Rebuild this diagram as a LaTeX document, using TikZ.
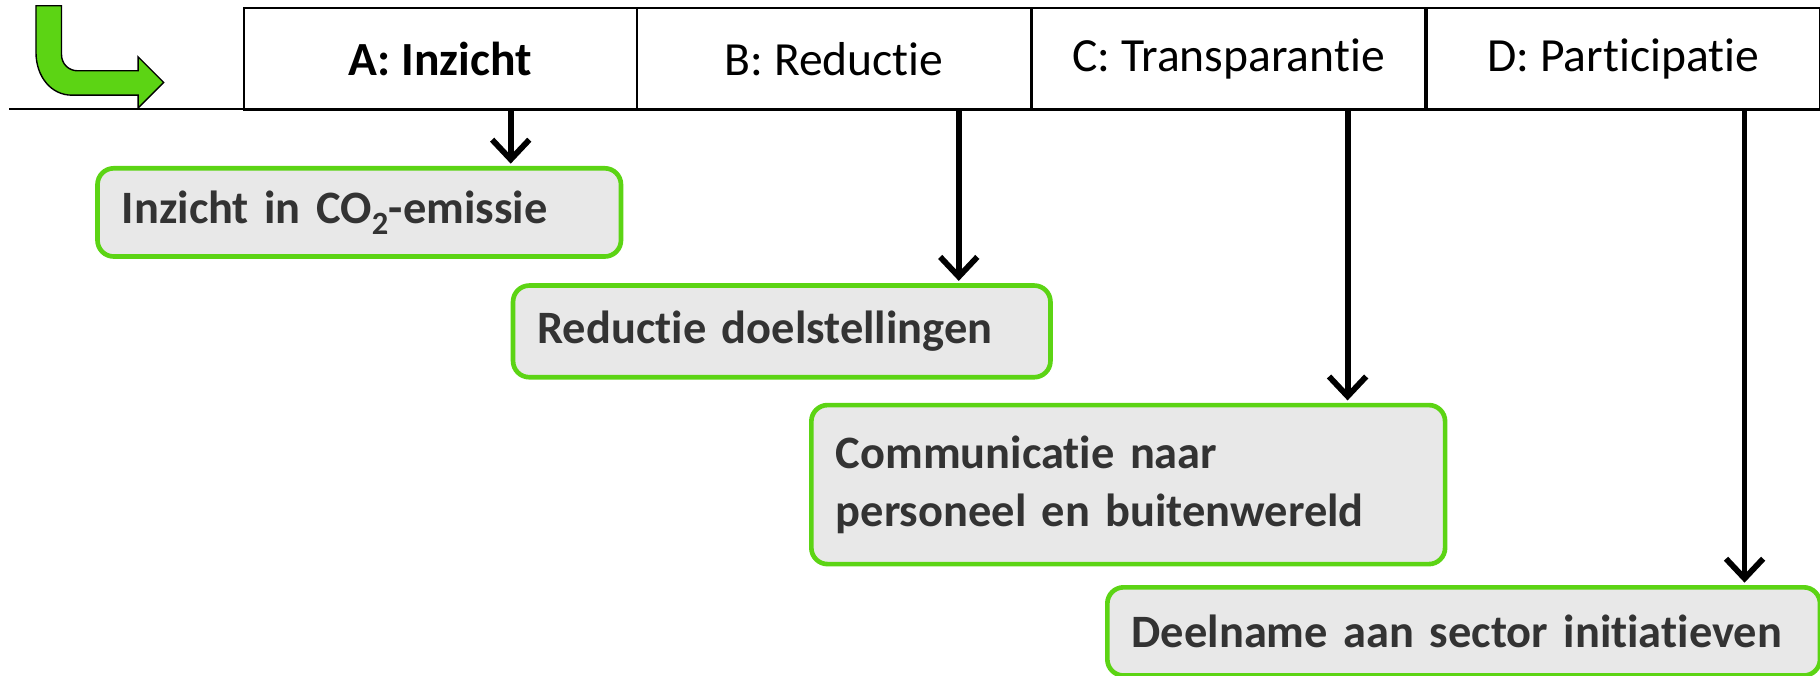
\documentclass[tikz,border=0pt]{standalone}
\usepackage{fontspec}
\setmainfont{Carlito}[Ligatures=NoCommon]
\usetikzlibrary{arrows.meta}
\definecolor{lgreen}{HTML}{5CD414}
\definecolor{boxfill}{HTML}{E8E8E8}
\definecolor{boxtext}{HTML}{333333}
\tikzset{
  hcell/.style={draw=black, line width=2pt, minimum width=339pt, minimum height=88pt, anchor=north west, inner sep=0pt, font=\fontsize{41}{50}\selectfont},
  gbox/.style={draw=lgreen, line width=4pt, fill=boxfill, rounded corners=14pt, anchor=north west, align=left, inner xsep=21pt, inner ysep=0pt, text=boxtext, font=\fontsize{40}{50}\selectfont\bfseries},
  conn/.style={line width=5pt, -{Straight Barb[length=17pt,width=32pt]}},
}
\begin{document}
\begin{tikzpicture}[x=1pt,y=-1pt]
\useasboundingbox (0,0) rectangle (1568,582.4);
% green bent arrow icon
\draw[fill=lgreen, draw=black, line width=1.2pt]
  (31,5) -- (53,5) -- (53,47) .. controls (53,55) and (59,61) .. (67,61)
  -- (119,61) -- (119,49) -- (141,71) -- (119,93) -- (119,82) -- (62,82)
  .. controls (44,82) and (31,66) .. (31,45) -- cycle;
% header
\node[hcell] (hA) at (209,6) {\bfseries A: Inzicht};
\node[hcell] (hB) at (548,6) {B: Reductie};
\node[hcell] (hC) at (888,6) {C: Transparantie};
\node[hcell] (hD) at (1228,6) {D: Participatie};
\draw[line width=2pt] (8,94) -- (1568,94);
% boxes
\node[gbox, text width=409pt, minimum height=76pt] (b1) at (82,143) {\mbox{Inzicht in CO\textsubscript{2}-emissie}};
\node[gbox, text width=421pt, minimum height=79pt] (b2) at (440,244) {\mbox{Reductie doelstellingen}};
\node[gbox, text width=504pt, minimum height=137pt] (b3) at (697,347) {Communicatie naar\\personeel en buitenwereld};
\node[gbox, text width=572pt, minimum height=76pt] (b4) at (952,504) {\mbox{Deelname aan sector initiatieven}};
% connectors
\coordinate (t1) at (440,141);
\coordinate (t2) at (826,242);
\coordinate (t3) at (1161,345);
\coordinate (t4) at (1503,502);
\draw[conn] (t1 |- hA.south) -- (t1);
\draw[conn] (t2 |- hB.south) -- (t2);
\draw[conn] (t3 |- hC.south) -- (t3);
\draw[conn] (t4 |- hD.south) -- (t4);
\end{tikzpicture}
\end{document}
